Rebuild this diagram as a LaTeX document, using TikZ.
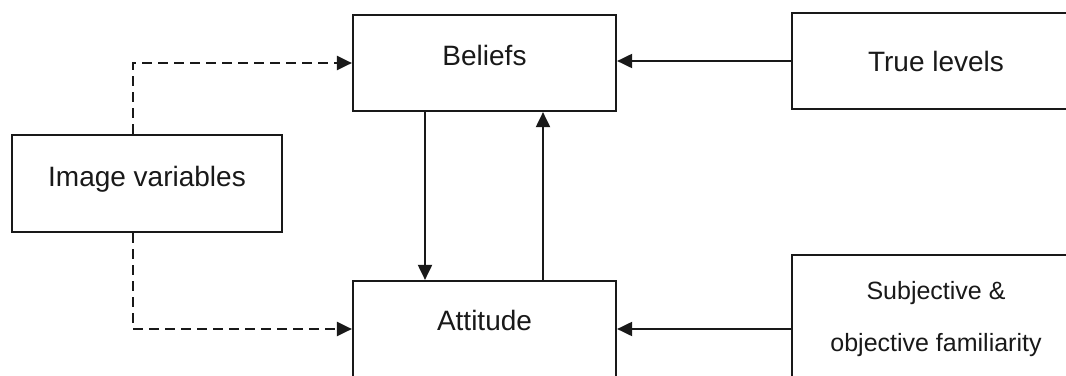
\documentclass[tikz,border=0pt]{standalone}
\usepackage{fontspec}
\setmainfont{Liberation Sans}
\usetikzlibrary{arrows.meta}
\begin{document}
\begin{tikzpicture}[x=1pt,y=-1pt,
  box/.style={draw=black!90, line width=2.2pt, rectangle, inner sep=0pt,
    font=\fontsize{28}{34}\selectfont, text=black!90},
  link/.style={draw=black!90, line width=2pt, -{Triangle[length=15pt,width=14pt]}},
  dlink/.style={link, line width=2.2pt, dash pattern=on 10pt off 6pt}]
\useasboundingbox (0,0) rectangle (1066,375);
\fill[white] (0,0) rectangle (1066,375);
\clip (0,0) rectangle (1066,375);
\node[box, minimum width=263pt, minimum height=96pt, text depth=16pt] (bel) at (484.5,63) {Beliefs};
\node[box, minimum width=288pt, minimum height=96pt] (tl) at (936,61) {True levels};
\node[box, minimum width=270pt, minimum height=97pt, text depth=14pt] (img) at (147,183.5) {Image variables};
\node[box, minimum width=263pt, minimum height=96pt, text depth=18pt] (att) at (484.5,329) {Attitude};
\node[box, minimum width=288pt, minimum height=128pt, align=center,
  font=\fontsize{25}{52}\selectfont] (sub) at (936,319) {Subjective \&\\objective familiarity};
\draw[link] (tl.west) -- (tl.west -| bel.east);
\draw[link] ([yshift=-10pt]sub.west) -- (att.east);
\draw[link] ([xshift=-59.5pt]bel.south) -- ([xshift=-59.5pt]bel.south |- att.north);
\draw[link] ([xshift=58.5pt]att.north) -- ([xshift=58.5pt]att.north |- bel.south);
\draw[dlink] ([xshift=-14pt]img.north) |- (bel.west);
\draw[dlink] ([xshift=-14pt]img.south) |- (att.west);
\end{tikzpicture}
\end{document}
